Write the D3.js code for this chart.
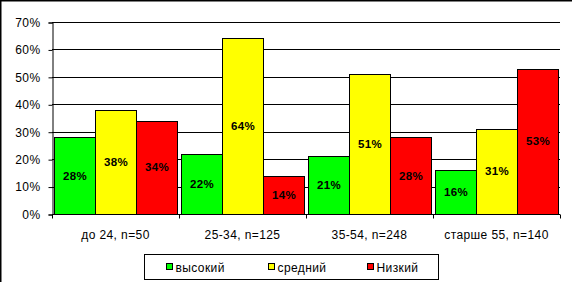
<!DOCTYPE html>
<html>
<head>
<meta charset="utf-8">
<script src="https://cdn.jsdelivr.net/npm/d3@7"></script>
<style>
  body { margin: 0; background: #fff; }
  svg { display: block; font-family: Arial, "Liberation Sans", sans-serif; }
  text { letter-spacing: 0.4px; }
</style>
</head>
<body>
<div id="chart"></div>
<script>
"use strict";

/** Data */
const categories = ["до 24, n=50", "25-34, n=125", "35-54, n=248", "старше 55, n=140"];
const seriesNames = ["высокий", "средний", "Низкий"];
const vysokiy = [28, 22, 21, 16];
const sredniy = [38, 64, 51, 31];
const nizkiy = [34, 14, 28, 53];
const yTicks = [0, 10, 20, 30, 40, 50, 60, 70];

const colors = ["#00ff00", "#ffff00", "#ff0000"];
const seriesValues = [vysokiy, sredniy, nizkiy];

/** Dimensions */
const w = 572;
const h = 282;
const plot = { left: 52, right: 560, top: 22, bottom: 214 };

const svg = d3.select("#chart")
  .append("svg")
  .attr("width", w)
  .attr("height", h);

/* Scales */
const x0 = d3.scaleBand()
  .domain(categories)
  .range([plot.left, plot.right]);

const x1 = d3.scaleBand()
  .domain(seriesNames)
  .range([1.5, x0.bandwidth() - 2.5]);

const y = d3.scaleLinear()
  .domain([0, 70])
  .range([plot.bottom, plot.top]);

/* Outer frame (only top and left visible) */
svg.append("line")
  .attr("x1", 0).attr("x2", w).attr("y1", 0.5).attr("y2", 0.5)
  .attr("stroke", "#000").attr("stroke-width", 2);
svg.append("line")
  .attr("x1", 0.5).attr("x2", 0.5).attr("y1", 0).attr("y2", h)
  .attr("stroke", "#000").attr("stroke-width", 2);

/* Gridlines */
svg.append("g")
  .selectAll("line")
  .data(yTicks.slice(1))
  .enter()
  .append("line")
  .attr("x1", plot.left)
  .attr("x2", plot.right)
  .attr("y1", d => Math.round(y(d)) + 0.5)
  .attr("y2", d => Math.round(y(d)) + 0.5)
  .attr("stroke", "#000")
  .attr("shape-rendering", "crispEdges");

/* Bars */
const groups = svg.append("g")
  .selectAll("g")
  .data(categories)
  .enter()
  .append("g")
  .attr("transform", d => "translate(" + x0(d) + ",0)");

const cells = groups.selectAll("g")
  .data((d, i) => seriesNames.map((s, j) => ({ series: s, value: seriesValues[j][i], color: colors[j] })))
  .enter()
  .append("g");

cells.append("rect")
  .attr("x", d => Math.round(x1(d.series)) + 0.5)
  .attr("y", d => Math.round(y(d.value)) + 0.5)
  .attr("width", x1.bandwidth())
  .attr("height", d => Math.round(y(0)) - Math.round(y(d.value)))
  .attr("fill", d => d.color)
  .attr("stroke", "#000")
  .attr("shape-rendering", "crispEdges");

cells.append("text")
  .attr("x", d => x1(d.series) + x1.bandwidth() / 2 + 1)
  .attr("y", d => (y(d.value) + y(0)) / 2 + 4)
  .attr("text-anchor", "middle")
  .attr("font-size", "11.5px")
  .attr("font-weight", "bold")
  .attr("fill", "#000")
  .text(d => d.value + "%");

/* Y axis */
const yAxis = d3.axisLeft(y)
  .tickValues(yTicks)
  .tickSize(4)
  .tickPadding(8)
  .tickFormat(d => d + "%");

svg.append("g")
  .attr("transform", "translate(" + (plot.left + 0.5) + ",0.5)")
  .call(yAxis)
  .call(g => g.select(".domain").attr("stroke", "#000"))
  .call(g => g.selectAll("line").attr("stroke", "#000"))
  .call(g => g.selectAll("text")
    .attr("font-size", "12px")
    .attr("font-family", "Arial, 'Liberation Sans', sans-serif")
    .attr("fill", "#000"));

/* X axis */
svg.append("g")
  .attr("transform", "translate(0," + (plot.bottom + 0.5) + ")")
  .call(g => g.append("line")
    .attr("x1", plot.left).attr("x2", plot.right)
    .attr("stroke", "#000"))
  .call(g => g.selectAll(".tick")
    .data(categories.concat([null]))
    .enter()
    .append("line")
    .attr("x1", (d, i) => plot.left + i * x0.step() + 0.5)
    .attr("x2", (d, i) => plot.left + i * x0.step() + 0.5)
    .attr("y1", 0).attr("y2", 4)
    .attr("stroke", "#000"))
  .call(g => g.selectAll("text")
    .data(categories)
    .enter()
    .append("text")
    .attr("x", d => x0(d) + x0.bandwidth() / 2)
    .attr("y", 24.5)
    .attr("text-anchor", "middle")
    .attr("font-size", "12px")
    .attr("fill", "#000")
    .text(d => d));

/* Legend */
const legend = svg.append("g")
  .attr("transform", "translate(144.5,254.5)");

legend.append("rect")
  .attr("width", 294)
  .attr("height", 25)
  .attr("fill", "#fff")
  .attr("stroke", "#000")
  .attr("shape-rendering", "crispEdges");

const legendX = [22, 124, 223];

const items = legend.selectAll("g")
  .data(seriesNames)
  .enter()
  .append("g")
  .attr("transform", (d, i) => "translate(" + legendX[i] + ",9)");

items.append("rect")
  .attr("width", 6)
  .attr("height", 6)
  .attr("fill", (d, i) => colors[i])
  .attr("stroke", "#000")
  .attr("shape-rendering", "crispEdges");

items.append("text")
  .attr("x", 9)
  .attr("y", 8)
  .attr("font-size", "12px")
  .attr("fill", "#000")
  .text(d => d);
</script>
</body>
</html>
